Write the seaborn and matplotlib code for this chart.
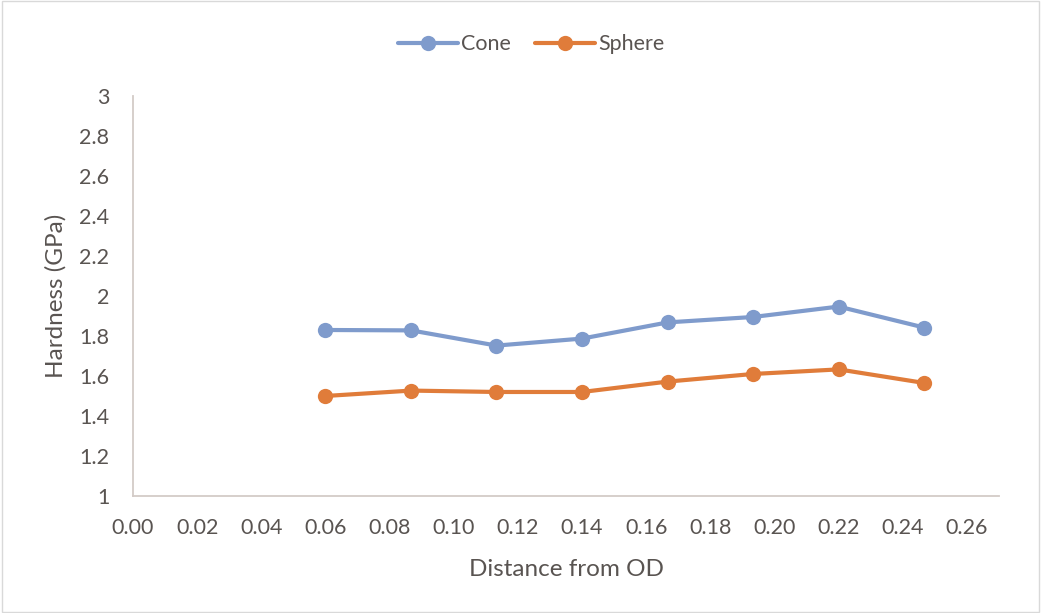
import matplotlib
matplotlib.use("Agg")
import matplotlib.pyplot as plt
import seaborn as sns
import pandas as pd
from matplotlib.ticker import FuncFormatter, MultipleLocator
from matplotlib.patches import Rectangle

# Hardness profile vs. distance from OD
distance = [0.06, 0.0867, 0.1133, 0.14, 0.1667, 0.1933, 0.22, 0.2467]
cone = [1.83, 1.828, 1.752, 1.787, 1.868, 1.895, 1.947, 1.842]
sphere = [1.50, 1.527, 1.52, 1.52, 1.572, 1.61, 1.633, 1.565]
series_names = ["Cone", "Sphere"]
colors = ["#7F9BCC", "#E07C3A"]

df = pd.DataFrame({
    "Distance": distance * 2,
    "Hardness": cone + sphere,
    "Series": [series_names[0]] * len(cone) + [series_names[1]] * len(sphere),
})

sns.set_theme(style="white")
plt.rcParams["font.family"] = ["Lato", "DejaVu Sans"]
text_color = "#595451"
axis_color = "#D3CBC7"

fig = plt.figure(figsize=(10.41, 6.13), dpi=100)
ax = fig.add_axes([0.1278, 0.1909, 0.8319, 0.6525])

sns.lineplot(data=df, x="Distance", y="Hardness", hue="Series",
             palette=dict(zip(series_names, colors)), marker="o",
             markersize=11, markeredgewidth=0, linewidth=3.0, ax=ax,
             legend=False, sort=False)

ax.set_xlim(0, 0.27)
ax.set_ylim(1, 3)
ax.xaxis.set_major_locator(MultipleLocator(0.02))
ax.yaxis.set_major_locator(MultipleLocator(0.2))
ax.xaxis.set_major_formatter(FuncFormatter(lambda v, p: f"{v:.2f}"))
ax.yaxis.set_major_formatter(FuncFormatter(lambda v, p: f"{v:g}"))
ax.set_xticks([i * 0.02 for i in range(14)])

for s in ["top", "right"]:
    ax.spines[s].set_visible(False)
for s in ["left", "bottom"]:
    ax.spines[s].set_color(axis_color)
    ax.spines[s].set_linewidth(1.3)

ax.tick_params(axis="both", length=0, labelsize=15.5, colors=text_color)
ax.tick_params(axis="x", pad=16)
ax.tick_params(axis="y", pad=17)
ax.set_xlabel("Distance from OD", fontsize=17.5, color=text_color, labelpad=15)
ax.set_ylabel("Hardness (GPa)", fontsize=17.5, color=text_color, labelpad=9)

handles = [plt.Line2D([0], [0], color=c, marker="o", markersize=11,
                      markeredgewidth=0, linewidth=3.0) for c in colors]
leg = fig.legend(handles, series_names, loc="center", bbox_to_anchor=(0.51, 0.928),
                 ncol=2, frameon=False, fontsize=15.5, handlelength=2.8,
                 handletextpad=0.15, columnspacing=1.1)
for t in leg.get_texts():
    t.set_color(text_color)

fig.patches.append(Rectangle((0.002, 0.002), 0.996, 0.996, transform=fig.transFigure,
                             fill=False, edgecolor="#D9D9D9", linewidth=1.0))

fig.savefig("out.png", dpi=100, facecolor="white")
